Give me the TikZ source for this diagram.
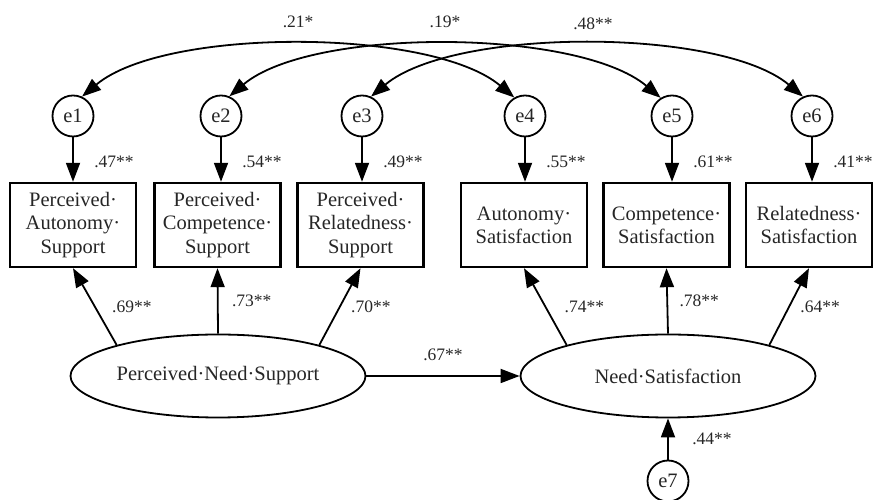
\documentclass[tikz,border=0pt]{standalone}
\usepackage{fontspec}
\setmainfont{Liberation Serif}
\usetikzlibrary{positioning,arrows.meta,shapes.geometric}
\newcommand{\boxfont}{\fontsize{20.5}{23.3}\selectfont}
\newcommand{\numfont}{\fontsize{17.5}{20}\selectfont}
\colorlet{textgray}{black!85}
\tikzset{
  obs/.style={draw,line width=2.4pt,minimum width=126pt,minimum height=84pt,inner sep=0pt,align=center,font=\boxfont,text=textgray},
  err/.style={circle,draw,line width=1.8pt,minimum size=41pt,inner sep=0pt,font=\boxfont,text=textgray},
  lat/.style={ellipse,draw,line width=1.8pt,minimum width=295pt,minimum height=83pt,inner sep=0pt,font=\boxfont,text=textgray},
  load/.style={-{Triangle[length=19pt,width=14pt]},line width=1.8pt},
  cov/.style={{Triangle[length=19pt,width=14pt]}-{Triangle[length=19pt,width=14pt]},line width=1.8pt},
  coef/.style={font=\numfont,text=textgray}
}

\begin{document}
\begin{tikzpicture}[x=1pt,y=1pt]
  \useasboundingbox (0,0) rectangle (879,500);
  % error terms and indicators
  \foreach \n/\x in {1/73,2/221,3/362,4/525,5/672,6/812}{\node[err] (e\n) at (\x,384) {e\n};}
  \foreach \n/\x/\txt in {1/73/{Perceived·\\Autonomy·\\Support},2/217.5/{Perceived·\\Competence·\\Support},3/360.5/{Perceived·\\Relatedness·\\Support},4/524/{Autonomy·\\Satisfaction},5/666.5/{Competence·\\Satisfaction},6/809/{Relatedness·\\Satisfaction}}{\node[obs] (b\n) at (\x,275) {\txt};}
  % latent variables
  \node[lat] (pns) at (218,124) {Perceived·Need·Support};
  \node[lat] (ns) at (668,124) {Need·Satisfaction};
  \node[err] (e7) at (668,19) {e7};
  \foreach \n/\v in {1/.47**,2/.54**,3/.49**,4/.55**,5/.61**,6/.41**}{\draw[load] (e\n) -- (e\n |- b\n.north) node[coef,midway,xshift=41pt,yshift=-2pt] {\v};}
  \draw[load] (pns.163) -- (b1.south) node[coef,midway,xshift=37pt] {.69**};
  \draw[load] (pns.north) -- (b2.south) node[coef,midway,xshift=34pt] {.73**};
  \draw[load] (pns.17) -- (b3.south) node[coef,midway,xshift=31pt] {.70**};
  \draw[load] (ns.163) -- (b4.south) node[coef,midway,xshift=39pt] {.74**};
  \draw[load] (ns.north) -- (b5.south) node[coef,midway,xshift=32pt] {.78**};
  \draw[load] (ns.17) -- (b6.south) node[coef,midway,xshift=31pt] {.64**};
  \draw[load] (pns) -- (ns) node[coef,midway,yshift=21pt] {.67**};
  \draw[load] (e7) -- (ns) node[coef,midway,xshift=44pt] {.44**};
  % covariances
  \draw[cov] (e1.65) to[out=40,in=140,looseness=.64] node[coef,midway,yshift=23pt] {.21*} (e4.120);
  \draw[cov] (e2.67) to[out=40,in=140,looseness=.64] node[coef,midway,yshift=23pt] {.19*} (e5.122);
  \draw[cov] (e3.65) to[out=40,in=140,looseness=.64] node[coef,midway,xshift=6pt,yshift=21pt] {.48**} (e6.115);
\end{tikzpicture}
\end{document}
